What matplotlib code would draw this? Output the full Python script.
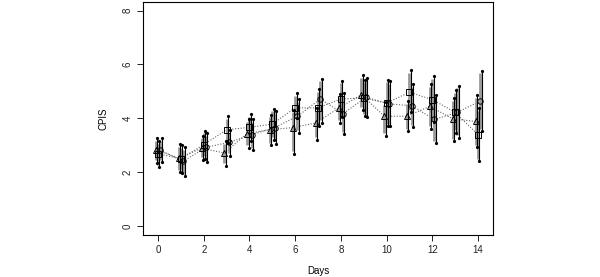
import numpy as np
import matplotlib
matplotlib.use('Agg')
import matplotlib.pyplot as plt

plt.rcParams['font.family'] = ['Liberation Sans', 'DejaVu Sans']

days = np.arange(0, 15)

# series 1 (triangles)
tri_mean = [2.84, 2.53, 2.89, 2.72, 3.44, 3.58, 3.66, 3.83, 4.38, 4.88, 4.08, 4.08, 4.45, 3.98, 3.89]
tri_lo = [2.35, 2.00, 2.47, 2.25, 2.92, 3.00, 2.69, 3.21, 3.83, 4.33, 3.36, 3.52, 3.62, 3.15, 2.93]
tri_hi = [3.26, 3.05, 3.36, 3.15, 3.96, 4.14, 4.33, 4.39, 4.91, 5.60, 4.61, 4.64, 5.27, 4.76, 4.86]

# series 2 (squares)
sq_mean = [2.69, 2.50, 3.03, 3.58, 3.67, 3.79, 4.39, 4.39, 4.72, 4.76, 4.57, 4.97, 4.70, 4.23, 3.40]
sq_lo = [2.19, 1.98, 2.51, 3.09, 3.18, 3.21, 4.02, 3.73, 4.04, 4.08, 3.71, 4.23, 3.85, 3.46, 2.41]
sq_hi = [3.15, 3.00, 3.55, 4.08, 4.17, 4.36, 4.94, 5.09, 5.40, 5.44, 5.44, 5.78, 5.57, 5.04, 4.39]

# series 3 (circles)
ci_mean = [2.82, 2.41, 2.93, 3.11, 3.40, 3.66, 4.08, 4.72, 4.18, 4.78, 4.54, 4.47, 3.96, 4.23, 4.64]
ci_lo = [2.37, 1.85, 2.37, 2.62, 2.82, 3.05, 3.46, 3.83, 3.41, 4.04, 3.71, 3.67, 3.08, 3.28, 3.52]
ci_hi = [3.28, 2.93, 3.46, 3.56, 3.98, 4.29, 4.72, 5.48, 4.94, 5.50, 5.38, 5.28, 4.85, 5.22, 5.77]

series = [
    (tri_mean, tri_lo, tri_hi, '^', -0.1),
    (sq_mean, sq_lo, sq_hi, 's', 0.0),
    (ci_mean, ci_lo, ci_hi, 'o', 0.1),
]

fig = plt.figure(figsize=(6, 2.77), dpi=100)
ax = fig.add_axes([0.238, 0.152, 0.584, 0.841])

for mean, lo, hi, mk, off in series:
    x = days + off
    mean = np.array(mean)
    lo = np.array(lo)
    hi = np.array(hi)
    ax.plot(x, mean, color='#666666', lw=0.8, ls=(0, (1, 1.5)), zorder=2)
    # grey band bar and black whisker next to it
    ax.vlines(x, lo + 0.1, hi - 0.1, color='#999999', lw=2.0, zorder=3)
    ax.vlines(x + 0.06, lo, hi, color='black', lw=0.8, zorder=4)
    ax.plot(x + 0.06, lo, ls='none', marker='o', ms=1.3, color='black', zorder=4)
    ax.plot(x + 0.06, hi, ls='none', marker='o', ms=1.3, color='black', zorder=4)
    ax.plot(x, mean, ls='none', marker=mk, ms=3.9, mfc='none', mec='black',
            mew=0.7, zorder=5)

ax.set_xlim(-0.67, 14.67)
ax.set_ylim(-0.32, 8.32)
ax.set_xticks(range(0, 15, 2))
ax.set_yticks([0, 2, 4, 6, 8])
ax.tick_params(axis='both', direction='out', length=4, width=0.7, labelsize=7,
               colors='#222222')
ax.tick_params(axis='y', labelrotation=90)
for lab in ax.get_yticklabels():
    lab.set_va('center')
for s in ax.spines.values():
    s.set_linewidth(0.8)
ax.set_xlabel('Days', fontsize=7, labelpad=8)
ax.set_ylabel('CPIS', fontsize=7, labelpad=10)

fig.savefig('out.png', dpi=100)
